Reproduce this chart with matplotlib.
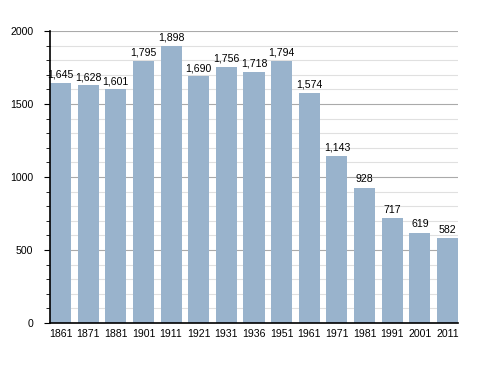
import matplotlib
matplotlib.use("Agg")
import matplotlib.pyplot as plt
import numpy as np
from matplotlib.ticker import MultipleLocator

years = ["1861", "1871", "1881", "1901", "1911", "1921", "1931", "1936",
         "1951", "1961", "1971", "1981", "1991", "2001", "2011"]
population = [1645, 1628, 1601, 1795, 1898, 1690, 1756, 1718,
              1794, 1574, 1143, 928, 717, 619, 582]

plt.rcParams['font.family'] = ['Liberation Sans', 'DejaVu Sans']

fig = plt.figure(figsize=(4.88, 3.73), dpi=100)
ax = fig.add_axes([50 / 488, 1 - 323 / 373, 408 / 488, 292 / 373])

x = np.arange(len(years))
w = 0.76
bars = ax.bar(x, population, width=w, color='#99b3cc', zorder=2)

# value labels above each bar
for xi, v in zip(x, population):
    ax.text(xi, v + 22, f"{v:,}", ha='center', va='bottom', fontsize=7.6, color='black')

ax.set_xlim(-w / 2, len(years) - 1 + w / 2)
ax.set_ylim(0, 2000)
ax.set_xticks(x)
ax.set_xticklabels(years, fontsize=7.6)
ax.yaxis.set_major_locator(MultipleLocator(500))
ax.yaxis.set_minor_locator(MultipleLocator(100))
ax.tick_params(axis='y', which='major', length=4, labelsize=7.6, pad=8)
ax.tick_params(axis='y', which='minor', length=3)
ax.tick_params(axis='x', length=0, pad=4)

ax.grid(axis='y', which='minor', color='#e0e0e0', linewidth=0.8, zorder=0)
ax.grid(axis='y', which='major', color='#aaaaaa', linewidth=0.8, zorder=0)
for s in ['top', 'right']:
    ax.spines[s].set_visible(False)
ax.spines['left'].set_linewidth(1.2)
ax.spines['bottom'].set_linewidth(1.2)

fig.savefig("out.png", dpi=100)
